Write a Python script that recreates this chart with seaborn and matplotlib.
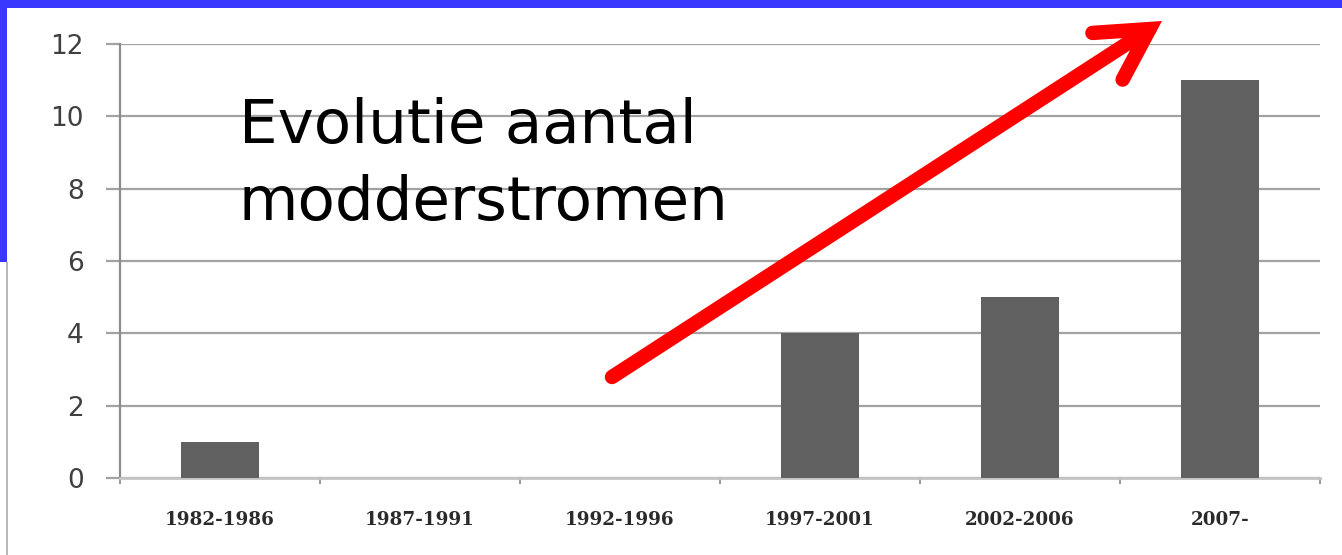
import numpy as np
import matplotlib
matplotlib.use("Agg")
import matplotlib.pyplot as plt
from matplotlib.patches import Rectangle
import seaborn as sns

# data
periods = ["1982-1986", "1987-1991", "1992-1996", "1997-2001", "2002-2006", "2007-"]
counts = [1, 0, 0, 4, 5, 11]
y_ticks = [0, 2, 4, 6, 8, 10, 12]
title_lines = ["Evolutie aantal", "modderstromen"]

sns.set_theme(style="white")
plt.rcParams["font.family"] = ["DejaVu Sans"]

W, H = 1342, 555
fig = plt.figure(figsize=(W / 100, H / 100), dpi=100)
fig.patch.set_facecolor("white")
ax = fig.add_axes([120 / W, 77 / H, 1200 / W, 434 / H])

sns.barplot(x=periods, y=counts, color="#606060", saturation=1, width=0.39,
            linewidth=0, ax=ax, zorder=3)

ax.set_ylim(0, 12)
ax.set_xlim(-0.5, len(periods) - 0.5)
ax.set_yticks(y_ticks)
ax.set_xlabel("")
ax.set_ylabel("")

# grid and axes styling
ax.yaxis.grid(True, color="#a2a2a2", lw=1.6)
ax.xaxis.grid(False)
ax.set_axisbelow(True)
for side in ["top", "right"]:
    ax.spines[side].set_visible(False)
ax.spines["left"].set_color("#8c8c8c")
ax.spines["left"].set_linewidth(1.6)
ax.spines["bottom"].set_color("#c4c4c4")
ax.spines["bottom"].set_linewidth(2)

ax.tick_params(axis="y", length=10, width=1.6, color="#a2a2a2", pad=16,
               labelsize=19, labelcolor="#404040", left=True)
ax.set_xticks(np.arange(-0.5, len(periods), 1), minor=True)
ax.tick_params(axis="x", which="minor", length=4.5, width=1.5, color="#9c9c9c",
               direction="out", bottom=True)
ax.tick_params(axis="x", which="major", length=0, pad=24)
for lab in ax.get_xticklabels():
    lab.set_family("DejaVu Serif")
    lab.set_weight("bold")
    lab.set_fontsize(13.2)
    lab.set_color("#2a2a2a")

# title text inside the plot
fig.text(239 / W, 1 - 143 / H, title_lines[0], fontsize=44, va="baseline", color="black")
fig.text(239 / W, 1 - 220 / H, title_lines[1], fontsize=44, va="baseline", color="black")

# big red trend arrow
ax.annotate("", xy=(1162 / W, 1 - 21 / H), xytext=(612 / W, 1 - 377 / H),
            xycoords="figure fraction", textcoords="figure fraction",
            annotation_clip=False,
            arrowprops=dict(arrowstyle="->,head_length=0.9,head_width=0.5",
                            mutation_scale=40, lw=10.4, color="red",
                            capstyle="round", joinstyle="miter",
                            shrinkA=0, shrinkB=0),
            zorder=10)

# slide frame: blue strip at top and left, grey line below
fig.add_artist(Rectangle((0, 1 - 8 / H), 1, 8 / H, transform=fig.transFigure,
                         color="#3838ff", lw=0))
fig.add_artist(Rectangle((0, 1 - 262 / H), 7 / W, 262 / H, transform=fig.transFigure,
                         color="#3838ff", lw=0))
fig.add_artist(Rectangle((6 / W, 0), 1.5 / W, 1 - 262 / H, transform=fig.transFigure,
                         color="#b8b8b8", lw=0))

fig.savefig("out.png", dpi=100)
